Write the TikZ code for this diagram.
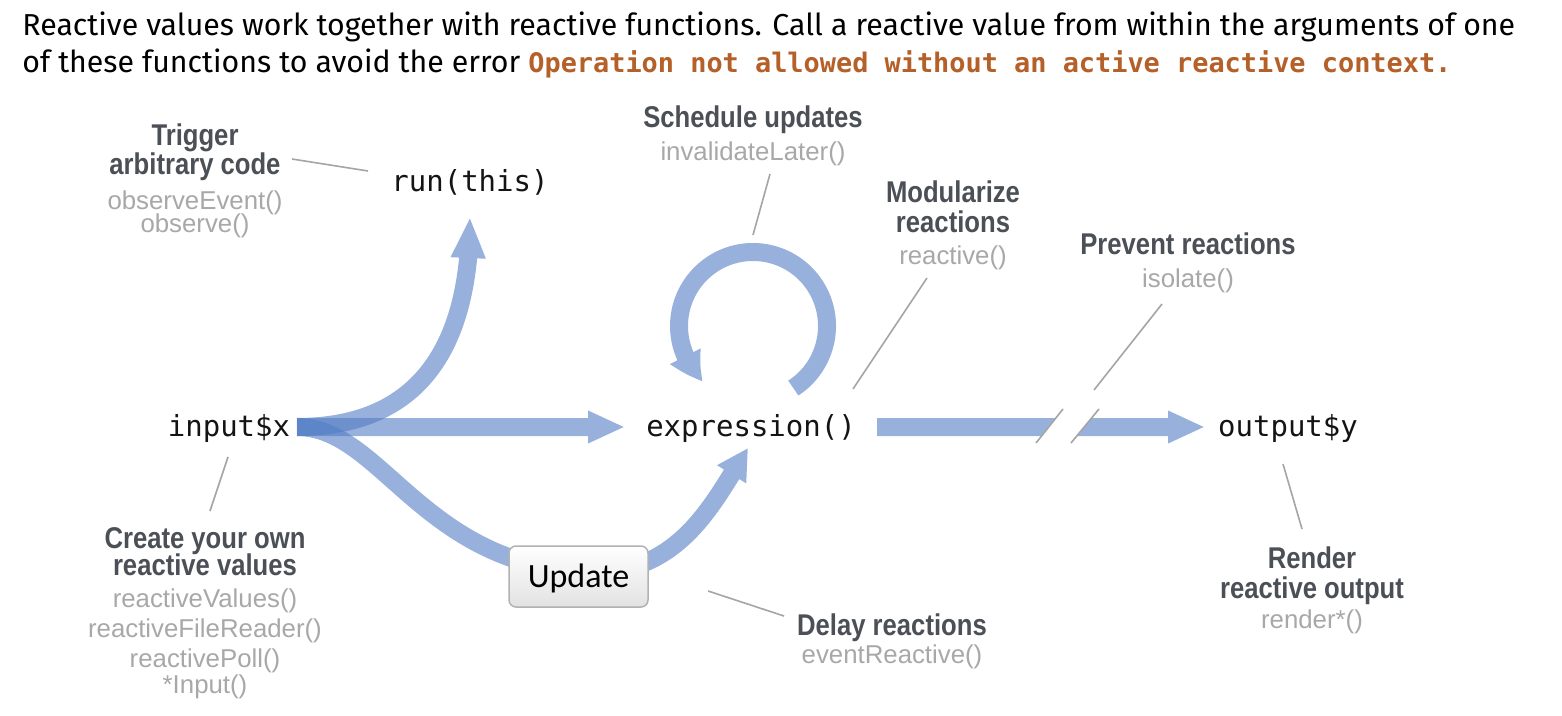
\documentclass[tikz,border=0pt]{standalone}
\usepackage{fontspec}
\setmainfont{Fira Sans}
\newfontfamily\hdfam[FakeStretch=0.855]{Liberation Sans}
\newfontfamily\fnfam{Liberation Sans}
\newfontfamily\codefam{DejaVu Sans Mono}
\newfontfamily\btnfam{Carlito}
\usetikzlibrary{arrows.meta,bending}
\definecolor{arrowblue}{RGB}{83,125,198}
\definecolor{hdgray}{RGB}{75,79,86}
\definecolor{fngray}{RGB}{168,168,168}
\definecolor{leadgray}{RGB}{165,165,165}
\definecolor{errorange}{RGB}{181,96,40}
\definecolor{btnborder}{RGB}{178,178,178}
\definecolor{btnbottom}{RGB}{226,226,226}
\pgfdeclarelayer{bg}
\pgfsetlayers{bg,main}
\newcommand\hd{\hdfam\bfseries\fontsize{15pt}{15pt}\selectfont\color{hdgray}}
\newcommand\fn{\fnfam\fontsize{12.9pt}{13pt}\selectfont\color{fngray}}
\newcommand\gap[1]{\cr\noalign{\vskip#1}}
\newcommand\blk[1]{\vtop{\baselineskip=0pt\lineskip=0pt\lineskiplimit=-\maxdimen\halign{\hfil##\hfil\cr#1\crcr}}}
\tikzset{
  code/.style={font=\codefam\fontsize{14.5pt}{16pt}\selectfont, text=black!92, inner sep=0, anchor=base},
  lbl/.style={inner sep=0, anchor=base},
  hdr/.style={inner sep=0, anchor=base west, font=\fontsize{15.15pt}{17pt}\selectfont},
  btn/.style={draw=btnborder, line width=0.75pt, rounded corners=3.5pt, top color=white, bottom color=btnbottom,
    minimum width=69.5pt, minimum height=30.5pt, inner sep=0, text height=11pt, text depth=0pt,
    font=\btnfam\fontsize{17pt}{18pt}\selectfont},
  arr/.style={draw=arrowblue, line width=9pt},
  grp/.style={transparency group, opacity=0.6},
  lead/.style={draw=leadgray, line width=0.8pt},
}
\begin{document}
\begin{tikzpicture}[x=0.5pt, y=0.5pt]
\useasboundingbox (0,0) rectangle (1562,-716);
\begin{pgfonlayer}{bg}
\fill[white] (0,0) rectangle (1562,-716);
\end{pgfonlayer}

% header
\node[hdr] (h1) at (22,-36) {Reactive values work together with reactive functions. Call a reactive value from within the arguments of one};
\node[hdr] (h2) at (22,-73) {of these functions to avoid the error {\codefam\bfseries\fontsize{13.45pt}{16pt}\selectfont\color{errorange}Operation not allowed without an active reactive context.}};

% main nodes
\node[code] (run) at (470,-192) {run(this)};
\node[code] (in) at (229,-436) {input\$x};
\node[code] (ex) at (751,-436) {expression()};
\node[code] (out) at (1288,-436) {output\$y};
\node[btn] (upd) at (578.5,-576.5) {Update};

% arrow end points
\coordinate (inR) at (297,-427);
\coordinate (runB) at (470,-217);
\coordinate (exL) at (625,-427);
\coordinate (exB) at (748,-448);
\coordinate (exR) at (877,-427);
\coordinate (outL) at (1205,-427);
\coordinate (loopc) at (753,-326);

\begin{pgfonlayer}{bg}
\begin{scope}[grp]
\draw[arr, -{Triangle[length=20.5pt,width=16pt]}] (inR) .. controls (400,-427) and (470,-370) .. (runB);
\end{scope}
\begin{scope}[grp]
\draw[arr, -{Triangle[length=18.5pt,width=15pt]}] (inR) -- (exL);
\end{scope}
\begin{scope}[grp]
\draw[arr, -{Triangle[length=15.5pt,width=16pt]}] (inR) .. controls (380,-427) and (420,-560) .. (579,-572)
  .. controls (680,-580) and (714,-500) .. (exB);
\end{scope}
\begin{scope}[grp]
\draw[arr, -{Triangle[length=15.5pt,width=16pt,bend]}] ([shift={(-57:37pt)}]loopc) arc[start angle=-57, end angle=228, radius=37pt];
\end{scope}
\begin{scope}[grp]
\draw[arr, -{Triangle[length=18.5pt,width=15pt]}] (exR) -- (outL);
\end{scope}
% break in output arrow
\fill[white] (1033,-447) -- (1066,-405) -- (1102,-405) -- (1068,-447) -- cycle;
\end{pgfonlayer}
\coordinate (brA1) at (1036,-443);
\coordinate (brA2) at (1063,-409);
\coordinate (brB1) at (1071,-443);
\coordinate (brB2) at (1099,-409);
\draw[lead] (brA1) -- (brA2);
\draw[lead] (brB1) -- (brB2);

% labels
\node[lbl] (trig) at (195,-146) {\blk{{\hd Trigger}\gap{14.5pt}{\hd arbitrary code}\gap{17.5pt}{\fn observeEvent()}\gap{11.5pt}{\fn observe()}}};
\node[lbl] (sched) at (753,-128) {\blk{{\hd Schedule updates}\gap{16.5pt}{\fn invalidateLater()}}};
\node[lbl] (modu) at (953,-203) {\blk{{\hd Modularize}\gap{15pt}{\hd reactions}\gap{16pt}{\fn reactive()}}};
\node[lbl] (prev) at (1188,-255) {\blk{{\hd Prevent reactions}\gap{16.5pt}{\fn isolate()}}};
\node[lbl] (crea) at (205,-548) {\blk{{\hd Create your own}\gap{13.5pt}{\hd reactive values}\gap{16pt}{\fn reactiveValues()}\gap{15pt}{\fn reactiveFileReader()}\gap{15pt}{\fn reactivePoll()}\gap{13pt}{\fn *Input()}}};
\node[lbl] (delay) at (892,-635) {\blk{{\hd Delay reactions}\gap{14pt}{\fn eventReactive()}}};
\node[lbl] (rend) at (1312,-568) {\blk{{\hd Render}\gap{15pt}{\hd reactive output}\gap{15pt}{\fn render*()}}};

% leader lines
\coordinate (trigE) at (292,-159);
\coordinate (runW) at (368,-171);
\coordinate (schedS) at (770,-174);
\coordinate (loopT) at (753,-235);
\coordinate (moduS) at (927,-278);
\coordinate (exNE) at (853,-389);
\coordinate (prevS) at (1162,-304);
\coordinate (brTop) at (1094,-390);
\coordinate (inS) at (228,-457);
\coordinate (creaN) at (210,-511);
\coordinate (updE) at (708,-591);
\coordinate (delayW) at (784,-616);
\coordinate (outS) at (1283,-464);
\coordinate (rendN) at (1302,-529);
\draw[lead] (trigE) -- (runW);
\draw[lead] (schedS) -- (loopT);
\draw[lead] (moduS) -- (exNE);
\draw[lead] (prevS) -- (brTop);
\draw[lead] (inS) -- (creaN);
\draw[lead] (updE) -- (delayW);
\draw[lead] (outS) -- (rendN);
\end{tikzpicture}
\end{document}
